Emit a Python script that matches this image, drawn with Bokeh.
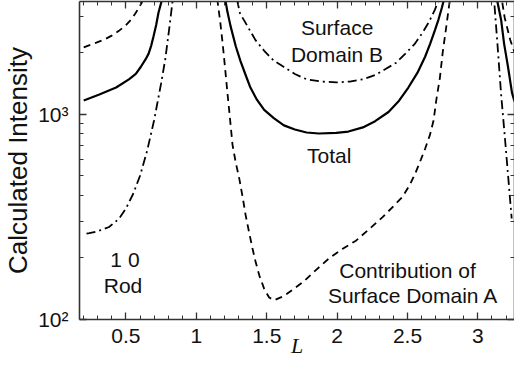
from bokeh.plotting import figure
from bokeh.models import Range1d, FixedTicker, LinearAxis, LogAxis, Label
from bokeh.embed import file_html
from bokeh.resources import INLINE

# ---- data ----
# Total (solid)
total_L1 = [0.20, 0.311, 0.430, 0.521, 0.570, 0.605, 0.640, 0.661, 0.680, 0.696, 0.715, 0.731, 0.752, 0.775]
total_I1 = [1165, 1245, 1346, 1476, 1570, 1694, 1850, 1968, 2160, 2390, 2720, 3110, 3520, 4300]
total_L2 = [1.195, 1.22, 1.243, 1.28, 1.313, 1.35, 1.384, 1.43, 1.482, 1.55, 1.622, 1.70, 1.783, 1.87,
            1.994, 2.08, 2.183, 2.27, 2.365, 2.44, 2.506, 2.57, 2.625, 2.66, 2.695, 2.72, 2.745, 2.775]
total_I2 = [3981, 3162, 2679, 2138, 1816, 1549, 1346, 1175, 1047, 955, 881, 841, 813, 804,
            809, 822, 861, 923, 1023, 1161, 1346, 1585, 1901, 2188, 2559, 2884, 3311, 3981]
total_L3 = [3.125, 3.137, 3.165, 3.186, 3.214, 3.242, 3.26]
total_I3 = [4169, 3565, 2871, 2203, 1694, 1271, 1150]

# Contribution of surface domain A (dashed)
domA_L1 = [0.20, 0.290, 0.350, 0.402, 0.450, 0.50, 0.540, 0.570, 0.595, 0.612, 0.635]
domA_I1 = [2113, 2228, 2310, 2415, 2540, 2710, 2900, 3112, 3320, 3483, 3981]
domA_L2 = [1.14, 1.152, 1.17, 1.187, 1.205, 1.222, 1.24, 1.257, 1.28, 1.306, 1.33, 1.349, 1.375, 1.398,
           1.42, 1.447, 1.482, 1.517, 1.552, 1.587, 1.622, 1.692, 1.762, 1.853, 1.945, 2.04, 2.134,
           2.23, 2.323, 2.40, 2.464, 2.515, 2.555, 2.595, 2.625, 2.660, 2.685, 2.705, 2.730, 2.750,
           2.770, 2.790, 2.81]
domA_I2 = [4169, 3483, 2800, 2203, 1650, 1245, 935, 708, 580, 481, 390, 325, 265, 223,
           192, 164, 141, 128, 124, 127, 130, 141, 153, 175, 199, 221, 242,
           276, 315, 356, 395, 450, 514, 600, 678, 794, 930, 1175, 1500, 1995,
           2500, 3162, 3981]
domA_L3 = [3.16, 3.19, 3.23, 3.26]
domA_I3 = [3981, 2951, 2291, 1995]

# Surface domain B (dash-dot)
domB_L1 = [0.22, 0.24, 0.30, 0.38, 0.45, 0.50, 0.55, 0.60, 0.65, 0.70, 0.75, 0.78, 0.81, 0.84]
domB_I1 = [262, 263, 269, 282, 309, 347, 407, 501, 661, 933, 1413, 1862, 2692, 3981]
domB_L2 = [1.27, 1.292, 1.31, 1.363, 1.42, 1.482, 1.55, 1.622, 1.70, 1.783, 1.89, 1.994, 2.09, 2.183,
           2.27, 2.344, 2.42, 2.485, 2.55, 2.604, 2.65, 2.695, 2.716, 2.73]
domB_I2 = [4467, 3524, 3090, 2679, 2291, 2032, 1820, 1694, 1567, 1476, 1439, 1426, 1439, 1476,
           1549, 1656, 1778, 1968, 2188, 2472, 2786, 3221, 3524, 3981]
domB_L3 = [3.10, 3.116, 3.14, 3.165, 3.19, 3.207, 3.24]
domB_I3 = [4169, 3524, 2138, 1245, 794, 577, 310]

x_ticks = [0.5, 1, 1.5, 2, 2.5, 3]
x_tick_labels = {0.5: "0.5", 1: "1", 1.5: "1.5", 2: "2", 2.5: "2.5", 3: "3"}
x_minor = [0.2, 0.3, 0.4, 0.6, 0.7, 0.8, 0.9, 1.1, 1.2, 1.3, 1.4, 1.6, 1.7, 1.8, 1.9,
           2.1, 2.2, 2.3, 2.4, 2.6, 2.7, 2.8, 2.9, 3.1, 3.2]
y_ticks = [100, 1000]
y_tick_labels = {100: "10²", 1000: "10³"}
y_minor = [200, 300, 400, 500, 600, 700, 800, 900, 2000, 3000]
blank_x = {t: " " for t in x_ticks}
blank_y = {t: " " for t in y_ticks}

FONT = "Liberation Sans"
INK = "#111111"

p = figure(width=514, height=362,
           x_range=Range1d(0.17, 3.26), y_range=Range1d(100, 3530),
           y_axis_type="log", output_backend="svg", toolbar_location=None,
           min_border_left=72, min_border_right=0, min_border_top=1, min_border_bottom=43)
p.outline_line_color = None
p.grid.visible = False
p.background_fill_color = "white"
p.border_fill_color = "white"

def style_axis(ax, show_labels):
    ax.axis_line_color = "#333333"
    ax.axis_line_width = 1.6
    ax.major_tick_line_color = "#333333"
    ax.minor_tick_line_color = "#333333"
    ax.major_tick_line_width = 1.3
    ax.minor_tick_line_width = 1.0
    ax.major_tick_in = 7
    ax.major_tick_out = 0
    ax.minor_tick_in = 4
    ax.minor_tick_out = 0
    if show_labels:
        ax.major_label_text_font = FONT
        ax.major_label_text_font_size = "21px"
        ax.major_label_text_color = INK
        ax.major_label_standoff = 9
    else:
        ax.major_label_text_font_size = "1px"
        ax.major_label_text_color = None
        ax.major_label_standoff = 0
        ax.axis_label_standoff = 0

# bottom x axis
xa = p.xaxis[0]
xa.ticker = FixedTicker(ticks=x_ticks, minor_ticks=x_minor)
xa.major_label_overrides = x_tick_labels
style_axis(xa, True)
xa.axis_label = "L"
xa.axis_label_text_font = "Liberation Serif"
xa.axis_label_text_font_style = "italic"
xa.axis_label_text_font_size = "22px"
xa.axis_label_text_color = INK
xa.axis_label_standoff = -13

# left y axis
ya = p.yaxis[0]
ya.ticker = FixedTicker(ticks=y_ticks, minor_ticks=y_minor)
ya.major_label_overrides = y_tick_labels
style_axis(ya, True)
ya.major_label_standoff = 11
ya.axis_label = "Calculated Intensity"
ya.axis_label_text_font = FONT
ya.axis_label_text_font_style = "normal"
ya.axis_label_text_font_size = "26px"
ya.axis_label_text_color = INK
ya.axis_label_standoff = 2

# top and right axes (ticks only)
top = LinearAxis(ticker=FixedTicker(ticks=x_ticks, minor_ticks=x_minor), major_label_overrides=blank_x)
style_axis(top, False)
p.add_layout(top, "above")
right = LogAxis(ticker=FixedTicker(ticks=y_ticks, minor_ticks=y_minor), major_label_overrides=blank_y)
style_axis(right, False)
p.add_layout(right, "right")

# curves
for Ls, Is in [(total_L1, total_I1), (total_L2, total_I2), (total_L3, total_I3)]:
    p.line(Ls, Is, line_color="black", line_width=2.2)
for Ls, Is in [(domA_L1, domA_I1), (domA_L2, domA_I2), (domA_L3, domA_I3)]:
    p.line(Ls, Is, line_color="black", line_width=1.8, line_dash="7 5")
for Ls, Is in [(domB_L1, domB_I1), (domB_L2, domB_I2), (domB_L3, domB_I3)]:
    p.line(Ls, Is, line_color="black", line_width=1.8, line_dash="9 4 2 4")

# annotations
notes = [
    ("Surface", 2.00, 2650),
    ("Domain  B", 2.02, 1950),
    ("Total", 1.944, 625),
    ("Contribution of", 2.50, 173),
    ("Surface Domain A", 2.54, 131),
    ("1 0", 0.493, 197),
    ("Rod", 0.479, 147),
]
for txt, lx, ly in notes:
    p.add_layout(Label(x=lx, y=ly, text=txt, text_font=FONT, text_font_size="21px",
                       text_color=INK, text_align="center", text_baseline="middle"))

open("out.html", "w").write(file_html(p, INLINE))
